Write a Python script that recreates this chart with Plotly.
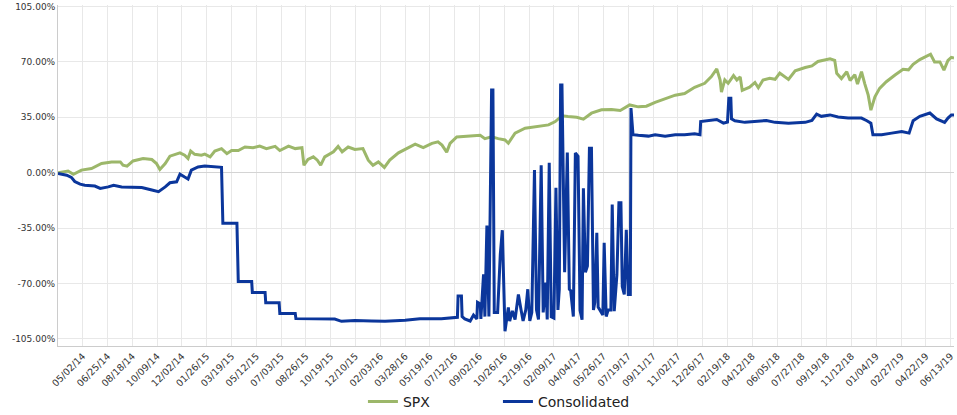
import plotly.graph_objects as go

# Cumulative return (%) by trading session; session 0 = first day of the window.
spx_day = [0, 15, 23, 35, 50, 65, 80, 93, 97, 103, 112, 127, 140, 147, 152, 160, 167, 182, 189, 194,
           198, 204, 214, 219, 227, 234, 244, 252, 259, 269, 279, 291, 301, 311, 324, 331, 344, 354,
           364, 367, 373, 381, 387, 392, 398, 411, 418, 424, 433, 443, 455, 463, 470, 478, 487, 495,
           508, 520, 533, 545, 558, 567, 573, 580, 585, 595, 612, 630, 637, 647, 657, 667, 672, 682,
           697, 712, 732, 742, 752, 761, 774, 784, 796, 811, 826, 839, 853, 866, 878, 891, 906, 921,
           935, 950, 965, 975, 983, 988, 990, 995, 1000, 1008, 1013, 1018, 1021, 1028, 1032, 1040,
           1045, 1052, 1062, 1070, 1077, 1090, 1100, 1115, 1125, 1134, 1144, 1152, 1159, 1162, 1169,
           1177, 1182, 1189, 1193, 1199, 1204, 1209, 1213, 1219, 1226, 1236, 1249, 1261, 1269, 1276,
           1286, 1296, 1302, 1308, 1316, 1322, 1328, 1333, 1337]
spx_ret = [0.0, 1.0, -1.0, 1.6, 2.6, 5.8, 6.8, 6.8, 4.7, 4.1, 7.4, 8.9, 8.3, 5.8, 2.0, 5.8, 10.4, 12.5,
           11.0, 8.9, 13.7, 11.6, 11.0, 11.7, 10.0, 13.7, 15.2, 12.0, 14.0, 14.0, 16.2, 15.8, 16.8,
           15.2, 16.6, 14.0, 16.8, 15.2, 15.8, 4.7, 8.4, 10.0, 7.9, 4.7, 10.0, 13.2, 16.6, 13.2, 16.2,
           14.7, 15.2, 7.9, 4.7, 6.8, 3.3, 7.9, 12.5, 15.2, 18.0, 15.8, 18.5, 19.5, 17.4, 13.0, 18.5,
           22.6, 23.2, 23.6, 21.5, 22.6, 21.5, 20.7, 18.6, 25.0, 28.1, 29.2, 30.2, 32.3, 36.0, 35.5,
           35.0, 33.8, 37.6, 39.7, 40.0, 39.3, 42.8, 41.6, 42.0, 44.5, 47.0, 49.0, 50.0, 54.0, 56.5,
           60.7, 65.6, 58.6, 51.0, 58.6, 56.5, 61.4, 58.6, 60.5, 52.0, 53.0, 54.0, 57.0, 53.7, 58.6,
           59.6, 59.0, 63.0, 59.0, 64.4, 66.5, 67.5, 70.3, 71.0, 72.0, 71.0, 62.8, 59.5, 63.8, 58.3,
           62.0, 56.0, 63.8, 56.0, 49.0, 39.5, 48.0, 53.3, 57.5, 61.7, 65.3, 65.0, 68.5, 71.5, 73.6,
           74.9, 70.0, 70.0, 64.8, 71.0, 72.9, 72.5]

cons_day = [0, 13, 20, 25, 33, 40, 55, 63, 75, 83, 95, 110, 125, 140, 150, 160, 167, 177, 182, 189,
            194, 199, 209, 219, 232, 244, 246, 267, 269, 289, 290, 309, 310, 330, 331, 354, 355, 413,
            423, 443, 468, 488, 518, 540, 572, 592, 596, 597, 602, 603, 607, 615, 620, 625, 626, 630,
            631, 635, 637, 640, 643, 647, 649, 651, 656, 660, 663, 667, 672, 674, 678, 682, 687, 691,
            694, 698, 701, 704, 707, 711, 714, 717, 721, 724, 728, 730, 733, 736, 740, 743, 746, 748,
            750, 752, 755, 756, 760, 763, 765, 769, 772, 776, 779, 782, 784, 787, 790, 793, 796, 799,
            801, 804, 806, 810, 813, 815, 818, 821, 825, 827, 830, 834, 837, 840, 842, 845, 848, 851,
            854, 855, 858, 866, 881, 891, 906, 921, 935, 950, 958, 959, 970, 983, 993, 999, 1001, 1004,
            1005, 1010, 1025, 1040, 1057, 1070, 1090, 1115, 1125, 1132, 1139, 1152, 1164, 1179, 1199,
            1207, 1213, 1216, 1229, 1244, 1259, 1270, 1273, 1276, 1286, 1301, 1311, 1318, 1323, 1328,
            1333, 1337]
cons_ret = [-0.5, -1.6, -3.0, -5.6, -7.3, -8.0, -8.5, -10.0, -9.0, -8.0, -9.0, -9.0, -9.4, -11.0, -12.0,
            -9.0, -6.4, -5.8, -1.0, -2.8, -4.0, 1.6, 3.6, 4.2, 3.6, 3.4, -32.0, -32.0, -68.8, -68.8,
            -75.7, -75.7, -82.3, -82.3, -89.0, -89.0, -92.3, -92.6, -94.0, -93.4, -93.8, -94.0, -93.3,
            -92.3, -92.3, -91.7, -91.5, -78.0, -78.0, -91.0, -92.5, -93.8, -90.0, -92.5, -82.0, -83.0,
            -92.5, -64.3, -91.0, -33.4, -91.0, 52.3, 52.3, -88.4, -88.4, -51.7, -36.4, -100.3, -85.2,
            -93.8, -87.4, -92.8, -77.0, -86.8, -93.8, -86.8, -73.7, -93.8, -88.4, 1.6, -86.8, -92.8,
            4.7, -88.4, -69.5, -92.8, 6.2, -91.2, -92.0, -9.5, -86.8, -73.7, 55.4, 55.4, -59.0, -63.0,
            12.8, -73.7, -74.6, -91.0, 12.4, 10.3, -87.0, -93.0, -9.9, -63.0, -59.0, 15.5, 15.5, -86.8,
            -82.0, -38.0, -85.0, -88.4, -90.0, -44.3, -91.0, -86.8, -86.8, -20.2, -87.6, -64.5, -19.1,
            -19.1, -72.0, -77.0, -36.2, -77.0, -77.0, 40.8, 24.0, 23.6, 23.1, 24.0, 23.0, 24.0, 24.0,
            24.6, 24.0, 32.3, 33.0, 33.6, 31.3, 32.0, 47.0, 47.0, 34.0, 32.8, 31.8, 32.3, 33.0, 31.8,
            31.3, 31.8, 33.0, 37.0, 35.6, 36.5, 35.2, 34.5, 34.5, 32.8, 31.3, 24.0, 24.0, 25.0, 26.0,
            25.0, 29.0, 32.8, 35.6, 37.7, 34.0, 32.8, 31.8, 34.5, 36.5, 36.5]

# Date labels shown every 37 sessions
tick_step = 37
date_labels = ["05/02/14", "06/25/14", "08/18/14", "10/09/14", "12/02/14", "01/26/15", "03/19/15",
               "05/12/15", "07/03/15", "08/26/15", "10/19/15", "12/10/15", "02/03/16", "03/28/16",
               "05/19/16", "07/12/16", "09/02/16", "10/26/16", "12/19/16", "02/09/17", "04/04/17",
               "05/26/17", "07/19/17", "09/11/17", "11/02/17", "12/26/17", "02/19/18", "04/12/18",
               "06/05/18", "07/27/18", "09/19/18", "11/12/18", "01/04/19", "02/27/19", "04/22/19",
               "06/13/19"]
y_ticks = [-105, -70, -35, 0, 35, 70, 105]

GREEN = "#9cb76a"
BLUE = "#0b369b"
FONT = "DejaVu Sans"

fig = go.Figure()
fig.add_trace(go.Scatter(x=spx_day, y=spx_ret, name="SPX", mode="lines",
                         line=dict(color=GREEN, width=3)))
fig.add_trace(go.Scatter(x=cons_day, y=cons_ret, name="Consolidated", mode="lines",
                         line=dict(color=BLUE, width=3)))

fig.update_layout(
    width=957, height=415,
    margin=dict(l=58, r=3, t=5, b=69, autoexpand=False),
    paper_bgcolor="white", plot_bgcolor="white",
    font=dict(family=FONT, color="#333333"),
    showlegend=True,
    legend=dict(orientation="h", x=0.491, xanchor="center", y=-0.164, yanchor="middle",
                font=dict(size=14, color="#222222"), entrywidth=90, entrywidthmode="pixels"),
    hovermode=False,
)
fig.update_xaxes(
    range=[0, 1337],
    tickvals=[tick_step * (i + 1) for i in range(len(date_labels))],
    ticktext=date_labels,
    tickangle=-45, tickfont=dict(size=9.5, color="#333333"),
    showgrid=True, gridcolor="#e8e8e8", gridwidth=1,
    showline=True, linecolor="#cccccc", linewidth=1,
    zeroline=False, ticks="",
)
fig.update_yaxes(
    range=[-109.6, 106],
    tickvals=y_ticks,
    ticktext=[f"{v:.2f}%" for v in y_ticks],
    tickfont=dict(size=9, color="#333333"),
    showgrid=True, gridcolor="#e8e8e8", gridwidth=1,
    showline=True, linecolor="#cccccc", linewidth=1,
    zeroline=True, zerolinecolor="#d4d4d4", zerolinewidth=1, ticks="",
)

fig.write_html("out.html", config={"displayModeBar": False})
